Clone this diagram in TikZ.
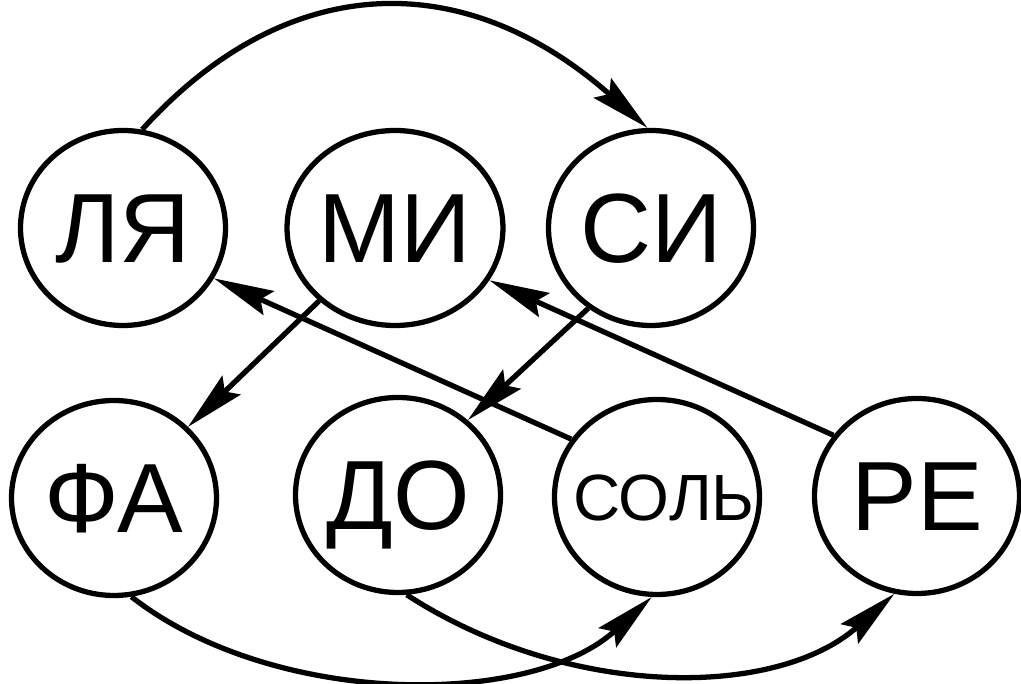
\documentclass[tikz,border=0pt]{standalone}
\usepackage{fontspec}
\setmainfont{Liberation Sans}
\usepackage{tikz}
\usetikzlibrary{shapes, arrows.meta}

\tikzset{
  note/.style={draw, ellipse, line width=1.5pt, minimum width=2.05cm, minimum height=1.95cm,
    inner sep=0pt, text height=0.7cm, text depth=0pt, font=\fontsize{28}{30}\selectfont},
  link/.style={line width=1.5pt, -{Stealth[length=6mm, width=2.6mm, inset=0.9mm]}}
}

\begin{document}
\begin{tikzpicture}
  \useasboundingbox (0,0) rectangle (10.21,6.84);

  \node[note] (la) at (1.23, 4.56) {ЛЯ};
  \node[note] (mi) at (3.95, 4.56) {МИ};
  \node[note] (si) at (6.51, 4.56) {СИ};

  \node[note] (fa) at (1.14, 1.86) {ФА};
  \node[note] (do) at (3.98, 1.89) {ДО};
  \node[note, text height=0.47cm, font=\fontsize{18.6}{20}\selectfont] (sol) at (6.57, 1.87) {\makebox[0pt]{\hspace*{0.14cm}СОЛЬ}};
  \node[note] (re) at (9.17, 1.88) {РЕ};

  \draw[link] (la.79) .. controls +(1.45,1.6) and +(-1.83,1.62) .. (si.92);
  \draw[link] (mi) -- (fa);
  \draw[link] (sol.146) -- (la.331);
  \draw[link] (si.232) -- (do.47);
  \draw[link] (re.144) -- (mi.331);
  \draw[link] (fa.280) .. controls +(1.42,-1.11) and +(-1.21,-1.11) .. (sol.267);
  \draw[link] (do.275) .. controls +(1.6,-1.04) and +(-1.19,-1.06) .. (re.257);
\end{tikzpicture}
\end{document}
